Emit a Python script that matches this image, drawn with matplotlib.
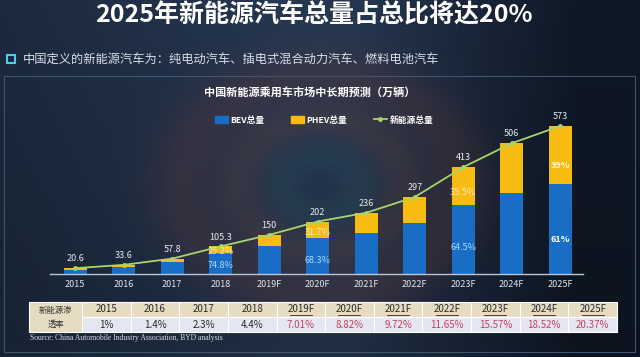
import matplotlib
matplotlib.use('Agg')
import matplotlib.pyplot as plt
import numpy as np
from matplotlib.patches import Rectangle, Patch
from matplotlib.lines import Line2D

plt.rcParams['font.family'] = ['Noto Sans CJK SC', 'DejaVu Sans']

# === Data ===
years = ['2015', '2016', '2017', '2018', '2019F', '2020F', '2021F', '2022F', '2023F', '2024F', '2025F']
total = [20.6, 33.6, 57.8, 105.3, 150, 202, 236, 297, 413, 506, 573]
bev = [15.0, 26.5, 46.0, 78.8, 107.0, 138.0, 156.0, 196.0, 266.4, 312.0, 349.5]
phev = [5.6, 7.1, 11.8, 26.5, 43.0, 64.0, 80.0, 101.0, 146.6, 194.0, 223.5]
share_labels = {3: ('74.8%', '25.2%'), 5: ('68.3%', '31.7%'), 8: ('64.5%', '35.5%'), 10: ('61%', '39%')}
penetration = ['1%', '1.4%', '2.3%', '4.4%', '7.01%', '8.82%', '9.72%', '11.65%', '15.57%', '18.52%', '20.37%']

BLUE = '#1a6dc4'
YELLOW = '#f7bb12'
GREEN = '#a8d46c'

W, H = 640, 357
fig = plt.figure(figsize=(W / 100, H / 100), dpi=100)

# --- background: dark navy gradient with faint swirl rings ---
yy, xx = np.mgrid[0:H, 0:W].astype(float)
t = xx / W
left = np.array([28, 42, 62])
mid = np.array([38, 55, 80])
right = np.array([15, 24, 38])
w_l = np.clip(1 - t / 0.45, 0, 1)[..., None]
w_r = np.clip((t - 0.55) / 0.35, 0, 1)[..., None]
base = left * w_l + right * w_r + mid * (1 - w_l - w_r)
base = base * (1 - 0.18 * (yy / H))[..., None]
r = np.sqrt(((xx - 320) / 1.25) ** 2 + (yy - 185) ** 2)
ring1 = np.exp(-((r - 110) / 28) ** 2) * 0.3
ring2 = np.exp(-((r - 65) / 20) ** 2) * 0.25
ring3 = np.exp(-((r - 30) / 16) ** 2) * 0.2
img = base
img = img * (1 - ring1[..., None]) + np.array([100, 58, 60]) * ring1[..., None]
img = img * (1 - ring2[..., None]) + np.array([115, 72, 64]) * ring2[..., None]
img = img * (1 - ring3[..., None]) + np.array([50, 95, 105]) * ring3[..., None]
bg = fig.add_axes([0, 0, 1, 1])
bg.imshow(np.clip(img, 0, 255).astype(np.uint8), aspect='auto', extent=(0, W, H, 0))
bg.set_xlim(0, W)
bg.set_ylim(H, 0)
bg.axis('off')

# titles
bg.text(314, 15, '2025年新能源汽车总量占总比将达20%', ha='center', va='center',
        fontsize=18, fontweight='bold', color='white')
bg.add_patch(Rectangle((7, 55), 8, 8, fill=False, edgecolor='#55c8f0', lw=1.5))
bg.text(23, 59.5, '中国定义的新能源汽车为：纯电动汽车、插电式混合动力汽车、燃料电池汽车',
        ha='left', va='center', fontsize=8.8, color='#d8dee8')
bg.add_patch(Rectangle((4, 76), 631, 276, fill=False, edgecolor='#3e556e', lw=0.8))
bg.text(310, 92, '中国新能源乘用车市场中长期预测（万辆）', ha='center', va='center',
        fontsize=8, fontweight='bold', color='white')

# --- main chart ---
ax = fig.add_axes([50 / W, 1 - 273.5 / H, 533 / W, (273.5 - 117) / H])
ax.patch.set_alpha(0)
x = np.arange(len(years))
ax.bar(x, bev, width=0.47, color=BLUE, zorder=2)
ax.bar(x, phev, bottom=bev, width=0.47, color=YELLOW, zorder=2)
ax.plot(x, total, color=GREEN, lw=1.3, marker='o', markersize=2.5, zorder=3)

for i, v in enumerate(total):
    ax.annotate(f'{v:g}', (i, v), xytext=(0, 3.5), textcoords='offset points',
                ha='center', va='bottom', fontsize=6.5, color='#e6ebf2')

for i, (lb, lp) in share_labels.items():
    bold = 'bold' if i == 10 else 'normal'
    cb = 'white' if i == 10 else '#a8d8ff'
    cp = 'white' if i == 10 else '#f4f0dc'
    ax.text(i, bev[i] * 0.38, lb, ha='center', va='center', fontsize=6.5,
            color=cb, fontweight=bold, zorder=4)
    ax.text(i, bev[i] + phev[i] * 0.32, lp, ha='center', va='center', fontsize=6.5,
            color=cp, fontweight=bold, zorder=4, alpha=0.85)

ax.set_xlim(-0.52, 10.47)
ax.set_ylim(0, (273.5 - 117) / 0.2574)
ax.set_xticks(x)
ax.set_xticklabels(years, fontsize=6.5, color='#dfe6ee')
ax.tick_params(axis='x', length=0, pad=5)
ax.set_yticks([])
for s in ['top', 'right', 'left']:
    ax.spines[s].set_visible(False)
ax.spines['bottom'].set_color('#b8c6d6')
ax.spines['bottom'].set_linewidth(1)

handles = [Patch(color=BLUE), Patch(color=YELLOW),
           Line2D([], [], color=GREEN, lw=1.3, marker='o', markersize=2.5)]
leg = fig.legend(handles, ['BEV总量', 'PHEV总量', '新能源总量'], ncol=3, frameon=False,
                 loc='center', bbox_to_anchor=(324 / W, 1 - 120 / H),
                 fontsize=6.3, handlelength=1.5, handleheight=0.8,
                 columnspacing=3.0, handletextpad=0.3)
for txt in leg.get_texts():
    txt.set_color('white')
    txt.set_fontweight('bold')

# --- penetration table ---
tx0, tx1, ty0, ty1 = 29, 617, 302, 332
first_w = 53
col_w = (tx1 - tx0 - first_w) / len(years)
row_h = (ty1 - ty0) / 2
bg.add_patch(Rectangle((tx0, ty0), first_w, ty1 - ty0, facecolor='#e6dcc2',
                       edgecolor='white', lw=0.8))
bg.text(tx0 + first_w / 2, ty0 + row_h / 2 + 0.5, '新能源渗', ha='center', va='center',
        fontsize=6, color='#333333')
bg.text(tx0 + first_w / 2, ty0 + row_h * 1.5 - 0.5, '透率', ha='center', va='center',
        fontsize=6, color='#333333')
for j, (yr, pen) in enumerate(zip(years, penetration)):
    cx = tx0 + first_w + col_w * j
    bg.add_patch(Rectangle((cx, ty0), col_w, row_h, facecolor='#e6dcc2',
                           edgecolor='white', lw=0.8))
    bg.add_patch(Rectangle((cx, ty0 + row_h), col_w, row_h, facecolor='#e4e6f2',
                           edgecolor='white', lw=0.8))
    bg.text(cx + col_w / 2, ty0 + row_h / 2, yr, ha='center', va='center',
            fontsize=7, color='#2a2a2a')
    forecast = yr.endswith('F')
    if forecast:
        bg.plot([cx + col_w / 2 - 11, cx + col_w / 2 + 11], [ty0 + row_h - 2.5] * 2,
                color='#2a2a2a', lw=0.6)
    bg.text(cx + col_w / 2, ty0 + row_h * 1.5, pen, ha='center', va='center',
            fontsize=7, color='#c8405a' if forecast else '#2a2a2a')

bg.text(30, 337.5, 'Source: China Automobile Industry Association, BYD analysis',
        ha='left', va='center', fontsize=5.5, color='#d6dde6', family='Liberation Serif')

fig.savefig('out.png', dpi=100, facecolor=fig.get_facecolor())
